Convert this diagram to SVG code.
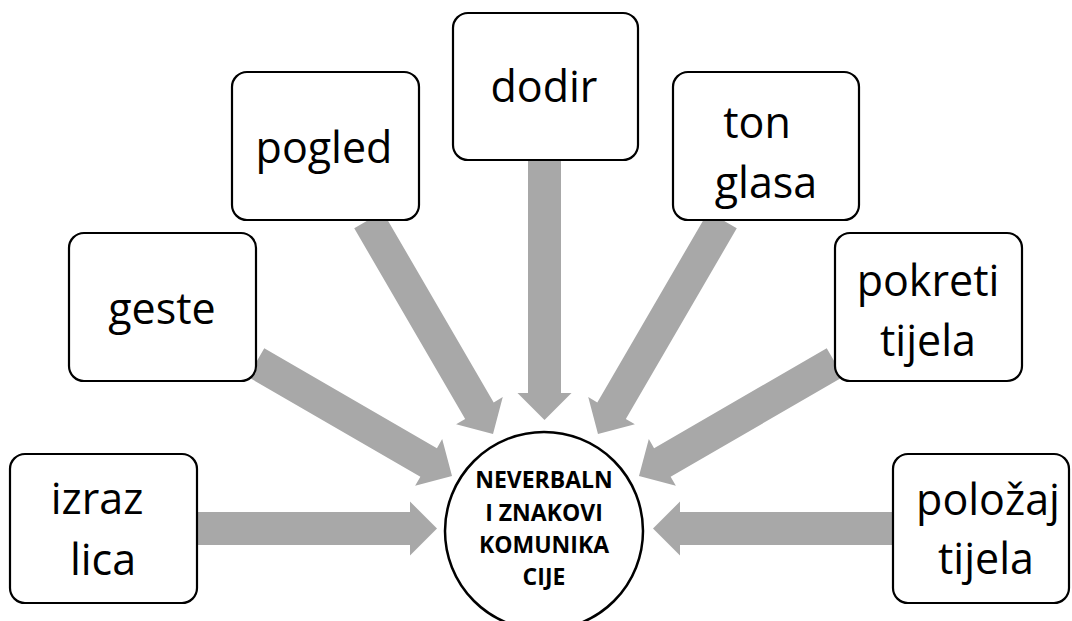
<svg xmlns="http://www.w3.org/2000/svg" width="1072" height="621" viewBox="0 0 1072 621">
<style>
.box{fill:#fff;stroke:#000;stroke-width:2.2}
.lbl{font-family:"Open Sans","Liberation Sans",sans-serif;font-size:43px;fill:#000;text-anchor:middle}
.ctr{font-family:"Open Sans","Liberation Sans",sans-serif;font-size:23px;font-weight:bold;fill:#000;text-anchor:middle}
.arr{fill:#A8A8A8}
</style>
<rect width="1072" height="621" fill="#fff"/>
<g id="connectors">
<polygon class="arr" transform="translate(197,528.5)" points="0,-16.5 213,-16.5 213,-27 240,0 213,27 213,16.5 0,16.5"/>
<polygon class="arr" transform="translate(893,528.5) rotate(180)" points="0,-16.5 213,-16.5 213,-27 240,0 213,27 213,16.5 0,16.5"/>
<polygon class="arr" transform="translate(544.5,160) rotate(90)" points="0,-16.5 233,-16.5 233,-27 260,0 233,27 233,16.5 0,16.5"/>
<polygon class="arr" transform="translate(368.5,220) rotate(59.81)" points="0,-16.5 220.6,-16.5 220.6,-27 247.6,0 220.6,27 220.6,16.5 0,16.5"/>
<polygon class="arr" transform="translate(722.5,220) rotate(120.19)" points="0,-16.5 220.6,-16.5 220.6,-27 247.6,0 220.6,27 220.6,16.5 0,16.5"/>
<polygon class="arr" transform="translate(256,362.5) rotate(30.07)" points="0,-16.5 199.5,-16.5 199.5,-27 226.5,0 199.5,27 199.5,16.5 0,16.5"/>
<polygon class="arr" transform="translate(835,362.5) rotate(149.93)" points="0,-16.5 199.5,-16.5 199.5,-27 226.5,0 199.5,27 199.5,16.5 0,16.5"/>
</g>
<g id="izraz-lica">
<rect class="box" x="10" y="454" width="187" height="149" rx="15"/>
<text class="lbl" x="97" y="514">izraz</text>
<text class="lbl" x="103" y="575">lica</text>
</g>
<g id="geste">
<rect class="box" x="69" y="233" width="187" height="148" rx="15"/>
<text class="lbl" x="162" y="324">geste</text>
</g>
<g id="pogled">
<rect class="box" x="232" y="72" width="187" height="148" rx="15"/>
<text class="lbl" x="324" y="163">pogled</text>
</g>
<g id="dodir">
<rect class="box" x="453" y="13" width="185" height="147" rx="15"/>
<text class="lbl" x="544" y="102">dodir</text>
</g>
<g id="ton-glasa">
<rect class="box" x="673" y="72" width="186" height="148" rx="15"/>
<text class="lbl" x="757" y="138">ton</text>
<text class="lbl" x="766" y="198">glasa</text>
</g>
<g id="pokreti-tijela">
<rect class="box" x="835" y="233" width="187" height="148" rx="15"/>
<text class="lbl" x="928" y="296">pokreti</text>
<text class="lbl" x="928" y="356">tijela</text>
</g>
<g id="polozaj-tijela">
<rect class="box" x="893" y="454" width="176" height="149" rx="15"/>
<text class="lbl" x="988" y="515">položaj</text>
<text class="lbl" x="986" y="574">tijela</text>
</g>
<g id="center">
<circle cx="544" cy="531" r="99" fill="#fff" stroke="#000" stroke-width="2.5"/>
<text class="ctr" x="544" y="488">NEVERBALN</text>
<text class="ctr" x="544" y="521">I ZNAKOVI</text>
<text class="ctr" x="544" y="553">KOMUNIKA</text>
<text class="ctr" x="544" y="585">CIJE</text>
</g>
</svg>
